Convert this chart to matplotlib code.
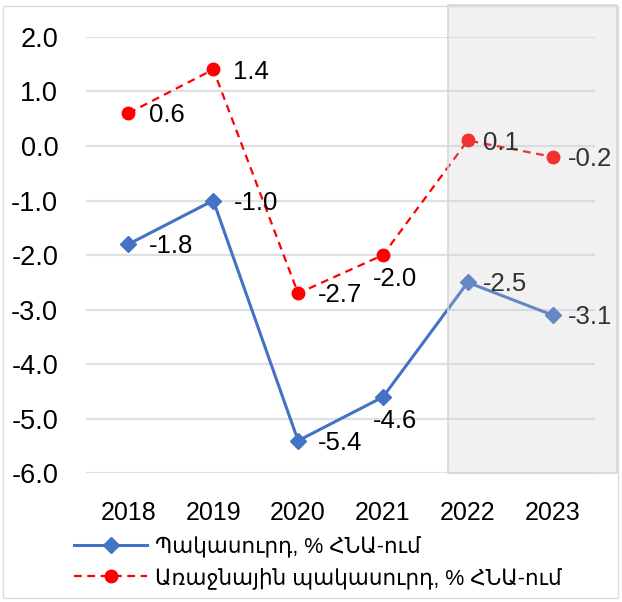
import matplotlib
matplotlib.use('Agg')
import matplotlib.pyplot as plt
from matplotlib.patches import Rectangle
from matplotlib.lines import Line2D

plt.rcParams['font.family'] = ['Liberation Sans', 'DejaVu Sans']
plt.rcParams['axes.unicode_minus'] = False

# data
years = ['2018', '2019', '2020', '2021', '2022', '2023']
deficit = [-1.8, -1.0, -5.4, -4.6, -2.5, -3.1]
primary_deficit = [0.6, 1.4, -2.7, -2.0, 0.1, -0.2]
y_ticks = [-6, -5, -4, -3, -2, -1, 0, 1, 2]
deficit_name = 'Պակասուրդ, % ՀՆԱ-ում'
primary_name = 'Առաջնային պակասուրդ, % ՀՆԱ-ում'

blue = '#4472C4'
red = '#FF0000'

fig = plt.figure(figsize=(6.22, 6.02), dpi=100)
ax = fig.add_axes([0.1383, 0.2135, 0.8183, 0.7255])

x = list(range(len(years)))
ax.plot(x, deficit, color=blue, lw=2.2, marker='D', markersize=8.5, zorder=3)
ax.plot(x, primary_deficit, color=red, lw=1.6, dashes=(3.5, 2.5),
        marker='o', markersize=9, zorder=3)

# data labels: right of the point, a few of them below
below = {('d', 3), ('p', 3)}
for key, vals in (('d', deficit), ('p', primary_deficit)):
    for i, v in enumerate(vals):
        if (key, i) in below:
            ax.annotate(f'{v:.1f}', (i, v), xytext=(9, -17), textcoords='offset points',
                        ha='center', va='center', fontsize=18.5, color='black', zorder=4)
        else:
            dx = 11 if i >= 4 else 14.5
            ax.annotate(f'{v:.1f}', (i, v), xytext=(dx, -1.5), textcoords='offset points',
                        ha='left', va='center', fontsize=18.5, color='black', zorder=4)

ax.set_xlim(-0.5, len(years) - 0.5)
ax.set_ylim(-6, 2)
ax.set_yticks(y_ticks)
ax.set_yticklabels([f'{t:.1f}' for t in y_ticks], fontsize=19.5)
ax.set_xticks(x)
ax.set_xticklabels(years, fontsize=18)
ax.tick_params(length=0)
ax.tick_params(axis='y', pad=20)
ax.tick_params(axis='x', pad=20)
ax.grid(axis='y', color='#dde1e6', lw=1.6)
ax.set_axisbelow(True)
for s in ax.spines.values():
    s.set_visible(False)

# forecast shading over 2022-2023
shade = Rectangle((3.767, -6), 5.76 - 3.767, 8.58, facecolor='#cbcbcb', alpha=0.25,
                  edgecolor='none', clip_on=False, zorder=5)
ax.add_patch(shade)
ax.add_patch(Rectangle((3.767, -6), 5.76 - 3.767, 8.58, facecolor='none',
                       edgecolor='#d6d6d6', lw=1.2, clip_on=False, zorder=5))

# figure border
fig.add_artist(Rectangle((3 / 622, 4 / 602), 615 / 622, 592 / 602, transform=fig.transFigure,
                         facecolor='none', edgecolor='#dcdcdc', lw=1.0))

handles = [
    Line2D([], [], color=blue, lw=2.2, marker='D', markersize=8),
    Line2D([], [], color=red, lw=1.6, dashes=(3.5, 2.5), marker='o', markersize=9),
]
fig.legend(handles, [deficit_name, primary_name], loc='upper left',
           bbox_to_anchor=(0.105, 0.123), frameon=False, fontsize=15.5,
           handlelength=3.4, handletextpad=0.35, labelspacing=0.42, borderaxespad=0)

fig.savefig('out.png', dpi=100)
